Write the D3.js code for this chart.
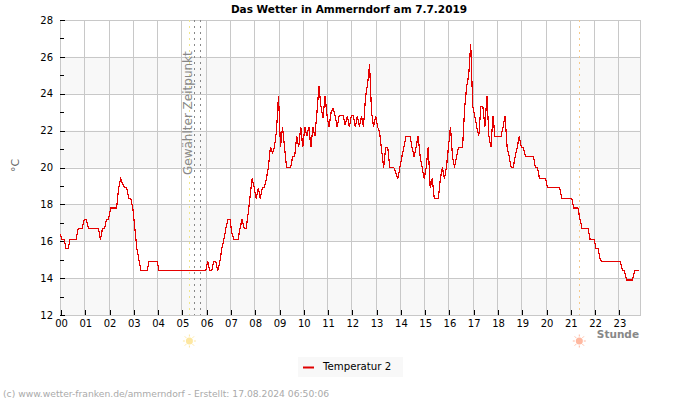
<!DOCTYPE html>
<html>
<head>
<meta charset="utf-8">
<script src="https://cdn.jsdelivr.net/npm/d3@7"></script>
<style>
  body { margin: 0; background: #fff; }
  text { font-family: "DejaVu Sans", sans-serif; }
</style>
</head>
<body>
<script>
// Temperatur 2, one reading every 5 minutes
var temps = [
  16.4,16.1,16.1,15.6,15.6,16.1,16.1,16.1,16.1,16.7,16.7,16.7,
  17.2,17.2,16.7,16.7,16.7,16.7,16.7,16.7,16.1,16.7,16.7,17.2,
  17.2,17.8,17.8,17.8,17.8,18.9,19.4,19.1,18.9,18.9,18.3,18.3,
  17.8,16.7,15.6,15.0,14.4,14.4,14.4,14.4,14.9,14.9,14.9,14.9,
  14.9,14.4,14.4,14.4,14.4,14.4,14.4,14.4,14.4,14.4,14.4,14.4,
  14.4,14.4,14.4,14.4,14.4,14.4,14.4,14.4,14.4,14.4,14.4,14.4,
  14.4,14.9,14.4,14.4,14.9,14.9,14.4,14.9,15.6,16.1,16.7,17.2,
  17.2,16.4,16.1,16.1,16.1,16.7,17.2,16.7,16.7,17.5,18.5,19.4,
  18.9,18.3,18.9,18.3,18.9,18.9,19.4,20.0,21.1,20.8,21.1,22.0,
  23.9,21.1,22.2,21.1,20.0,20.0,20.0,20.6,20.6,21.7,21.1,22.2,
  21.1,22.2,21.7,22.2,21.1,22.2,21.7,23.0,24.4,23.3,22.7,23.9,
  22.8,22.2,23.0,23.2,22.8,22.2,22.8,22.8,22.8,22.3,22.8,22.2,
  22.8,22.8,22.2,22.8,22.2,22.8,22.2,23.8,24.5,25.6,23.0,22.2,
  22.8,22.2,21.9,20.9,20.0,21.1,21.1,20.0,20.0,20.0,19.7,
  19.4,20.0,20.6,21.1,21.7,21.7,21.7,21.1,20.6,21.1,21.7,20.6,
  20.0,19.4,20.0,21.1,18.9,19.4,18.3,18.3,18.3,19.4,20.0,19.4,
  20.0,21.1,22.2,20.6,20.0,20.6,21.1,21.1,21.1,23.2,24.4,25.0,
  26.7,23.3,22.8,22.2,21.7,23.3,23.3,22.2,23.9,21.7,21.1,22.8,
  21.7,21.7,21.7,21.7,22.2,22.8,21.1,20.6,20.0,20.0,20.6,21.1,
  21.7,21.1,21.1,20.6,20.6,20.6,20.6,20.6,20.0,20.0,19.4,19.4,
  19.4,19.4,18.9,18.9,18.9,18.9,18.9,18.9,18.9,18.3,18.3,18.3,
  18.3,18.3,18.3,17.8,17.8,17.8,17.2,16.7,16.7,16.7,16.7,16.1,
  16.1,16.1,15.6,15.6,15.0,14.9,14.9,14.9,14.9,14.9,14.9,14.9,
  14.9,14.9,14.9,14.4,14.4,13.9,13.9,13.9,13.9,14.4,14.4,14.4
];
var minutesStep = 5;
var hourLabels = ['00','01','02','03','04','05','06','07','08','09','10','11','12','13','14','15','16','17','18','19','20','21','22','23'];
var hourTicks = d3.range(0, 24);
var yLabels = [12, 14, 16, 18, 20, 22, 24, 26, 28];
var yMinor = [13, 15, 17, 19, 21, 23, 25, 27];
var grayBands = [[12, 14], [16, 18], [20, 22], [24, 26]];
var selectedTimes = [5.53, 5.76];   // gewaehlter Zeitpunkt
var sunrise = 5.33;
var sunset = 21.39;

var width = 700, height = 400;
var left = 60, right = 640, top_ = 20, bottom = 315;

var svg = d3.select('body').append('svg')
  .attr('width', width)
  .attr('height', height)
  .style('display', 'block');

var x = d3.scaleLinear().domain([0, 23.89]).range([left, right]);
var y = d3.scaleLinear().domain([12, 28]).range([bottom, top_]);
var px = function (v) { return Math.round(v) + 0.5; };

// background bands
svg.selectAll('.band').data(grayBands).enter().append('rect')
  .attr('x', left)
  .attr('width', right - left)
  .attr('y', function (d) { return y(d[1]); })
  .attr('height', function (d) { return y(d[0]) - y(d[1]); })
  .attr('fill', '#f8f8f8');

// grid
var grid = svg.append('g').attr('stroke', '#c8c8c8').attr('stroke-width', 1).attr('shape-rendering', 'crispEdges');
grid.selectAll('.gx').data(hourTicks).enter().append('line')
  .attr('x1', function (d) { return px(x(d)); })
  .attr('x2', function (d) { return px(x(d)); })
  .attr('y1', top_).attr('y2', bottom);
grid.selectAll('.gy').data(yLabels).enter().append('line')
  .attr('x1', left).attr('x2', right + 1)
  .attr('y1', function (d) { return px(y(d)); })
  .attr('y2', function (d) { return px(y(d)); });
grid.append('line').attr('x1', px(right)).attr('x2', px(right)).attr('y1', top_).attr('y2', bottom);

// axes
var xAxis = d3.axisBottom(x).tickValues(hourTicks)
  .tickFormat(function (d) { return hourLabels[d]; })
  .tickSizeInner(-5).tickSizeOuter(0).tickPadding(5);
var gx = svg.append('g').attr('transform', 'translate(0,' + bottom + ')').call(xAxis);
gx.select('.domain').remove();
gx.selectAll('line').attr('stroke', '#000').attr('shape-rendering', 'crispEdges')
  .attr('transform', function (d) { return 'translate(' + (px(x(d)) - x(d)) + ',0)'; });
gx.selectAll('text').attr('font-family', '"DejaVu Sans"').attr('font-size', 10).attr('fill', '#000').attr('dx', 1);

var yAxis = d3.axisLeft(y).tickValues(yLabels).tickSizeInner(-5).tickSizeOuter(0).tickPadding(7);
var gy = svg.append('g').attr('transform', 'translate(' + left + ',0)').call(yAxis);
gy.select('.domain').remove();
gy.selectAll('line').attr('stroke', '#000').attr('shape-rendering', 'crispEdges');
gy.selectAll('text').attr('font-family', '"DejaVu Sans"').attr('font-size', 10).attr('fill', '#000');
svg.selectAll('.minor').data(yMinor).enter().append('line')
  .attr('x1', left).attr('x2', left + 4)
  .attr('y1', function (d) { return px(y(d)); })
  .attr('y2', function (d) { return px(y(d)); })
  .attr('stroke', '#000').attr('shape-rendering', 'crispEdges');

// sun lines and selected time
var markers = [
  { t: sunrise, c: '#f0e68c' },
  { t: selectedTimes[0], c: '#888' },
  { t: selectedTimes[1], c: '#888' },
  { t: sunset, c: '#f5c98a' }
];
svg.selectAll('.marker').data(markers).enter().append('line')
  .attr('x1', function (d) { return px(x(d.t)); })
  .attr('x2', function (d) { return px(x(d.t)); })
  .attr('y1', top_).attr('y2', bottom)
  .attr('stroke', function (d) { return d.c; })
  .attr('stroke-dasharray', '2,4')
  .attr('shape-rendering', 'crispEdges');

svg.append('text')
  .attr('transform', 'translate(192,175) rotate(-90)')
  .attr('font-size', 12)
  .attr('fill', '#888')
  .text('Gewählter Zeitpunkt');

// temperature line
var line = d3.line()
  .x(function (d, i) { return x(i * minutesStep / 60); })
  .y(function (d) { return y(d); });
svg.append('path')
  .datum(temps)
  .attr('d', line)
  .attr('fill', 'none')
  .attr('stroke', '#e60000')
  .attr('stroke-width', 1.2)
  .attr('shape-rendering', 'crispEdges');

// sun icons
function sun(t, col) {
  var g = svg.append('g').attr('transform', 'translate(' + x(t) + ',341)');
  g.selectAll('line').data(d3.range(0, 360, 45)).enter().append('line')
    .attr('x1', function (a) { return 4.5 * Math.cos(a * Math.PI / 180); })
    .attr('y1', function (a) { return 4.5 * Math.sin(a * Math.PI / 180); })
    .attr('x2', function (a) { return 6.5 * Math.cos(a * Math.PI / 180); })
    .attr('y2', function (a) { return 6.5 * Math.sin(a * Math.PI / 180); })
    .attr('stroke', col);
  g.append('circle').attr('r', 3.5).attr('fill', col);
}
sun(sunrise, '#fde7a0');
sun(sunset, '#ffb8a0');

// titles
svg.append('text').attr('x', 349).attr('y', 13).attr('text-anchor', 'middle')
  .attr('font-size', 10.5).attr('font-weight', 'bold').text('Das Wetter in Ammerndorf am 7.7.2019');
svg.append('text').attr('x', 639).attr('y', 338).attr('text-anchor', 'end')
  .attr('font-size', 10.5).attr('font-weight', 'bold').attr('fill', '#888').text('Stunde');
svg.append('text').attr('transform', 'translate(19,172) rotate(-90)')
  .attr('font-size', 11).attr('fill', '#666').text('°C');

// legend
svg.append('rect').attr('x', 298).attr('y', 357).attr('width', 105).attr('height', 20).attr('fill', '#f8f8f8');
svg.append('line').attr('x1', 303).attr('x2', 314).attr('y1', 367.5).attr('y2', 367.5)
  .attr('stroke', '#e00000').attr('stroke-width', 2);
svg.append('text').attr('x', 323).attr('y', 370).attr('font-size', 10.2).attr('fill', '#000').text('Temperatur 2');

// footer
svg.append('text').attr('x', 3).attr('y', 397).attr('font-size', 9.2).attr('fill', '#aaa')
  .text('(c) www.wetter-franken.de/ammerndorf - Erstellt: 17.08.2024 06:50:06');
</script>
</body>
</html>
